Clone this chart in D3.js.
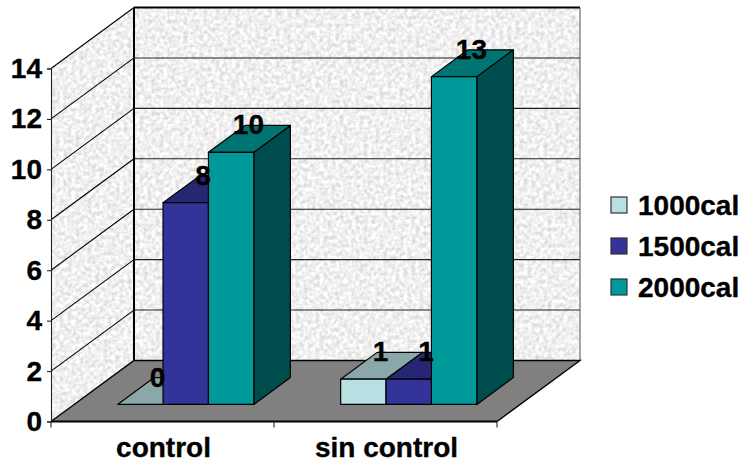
<!DOCTYPE html>
<html>
<head>
<meta charset="utf-8">
<script src="https://cdn.jsdelivr.net/npm/d3@7"></script>
<style>
  html, body { margin: 0; padding: 0; background: #fff; }
  svg { display: block; }
  text { font-family: "Liberation Sans", Arial, sans-serif; font-weight: bold; fill: #000; stroke: #000; stroke-width: 0.35px; }
</style>
</head>
<body>
<svg width="746" height="470"></svg>
<script>
const categories = ["control", "sin control"];
const seriesNames = ["1000cal", "1500cal", "2000cal"];
const values1000 = [0, 1];
const values1500 = [8, 1];
const values2000 = [10, 13];
const yTicks = [0, 2, 4, 6, 8, 10, 12, 14];

const seriesValues = [values1000, values1500, values2000];
const faceColors = ["#b8e0e3", "#333399", "#009999"];
const topColors = ["#8aa8aa", "#262673", "#007373"];
const sideColors = ["#5c7072", "#1a1a4d", "#004d4d"];

const svg = d3.select("svg");

// plot box, front plane, and how far the back wall is shifted
const plotLeft = 51, plotRight = 497, plotBottom = 421.5, plotTop = 68.5;
const depthX = 83, depthY = -61;
const barFront = 0.28, barBack = 0.72;

const y = d3.scaleLinear().domain([0, 14]).range([plotBottom, plotTop]);
const x = d3.scaleBand().domain(categories).range([plotLeft, plotRight]);
const xInner = d3.scaleBand()
  .domain(seriesNames)
  .range([0, x.bandwidth()])
  .paddingInner(0)
  .paddingOuter(0.956);

const pts = arr => arr.map(p => p.join(",")).join(" ");

// noise for the walls
const defs = svg.append("defs");
const noise = defs.append("filter").attr("id", "granite")
  .attr("x", 0).attr("y", 0).attr("width", 1).attr("height", 1)
  .attr("color-interpolation-filters", "sRGB");
noise.append("feTurbulence")
  .attr("type", "fractalNoise")
  .attr("baseFrequency", 0.25)
  .attr("numOctaves", 3)
  .attr("seed", 4);
noise.append("feColorMatrix").attr("type", "matrix")
  .attr("values", "0.3 0 0 0 0.79  0.3 0 0 0 0.79  0.3 0 0 0 0.79  0 0 0 0 1");
noise.append("feGaussianBlur").attr("stdDeviation", 0.6);

const wallLeft = [[plotLeft, y(0)], [plotLeft, y(14)], [plotLeft + depthX, y(14) + depthY], [plotLeft + depthX, y(0) + depthY]];
const wallBack = [[plotLeft + depthX, y(14) + depthY], [plotRight + depthX, y(14) + depthY], [plotRight + depthX, y(0) + depthY], [plotLeft + depthX, y(0) + depthY]];
const floor = [[plotLeft, y(0)], [plotRight, y(0)], [plotRight + depthX, y(0) + depthY], [plotLeft + depthX, y(0) + depthY]];

defs.append("clipPath").attr("id", "walls")
  .selectAll("polygon").data([wallLeft, wallBack]).join("polygon")
  .attr("points", pts);

svg.append("g").attr("clip-path", "url(#walls)")
  .append("rect")
  .attr("x", plotLeft - 2).attr("y", 0)
  .attr("width", plotRight + depthX - plotLeft + 4).attr("height", plotBottom)
  .attr("filter", "url(#granite)");

// gridlines on both walls
const grid = svg.append("g");
grid.selectAll(".back").data(yTicks.filter(d => d > 0 && d < 14)).join("line")
  .attr("class", "back")
  .attr("x1", plotLeft + depthX).attr("x2", plotRight + depthX)
  .attr("y1", d => y(d) + depthY).attr("y2", d => y(d) + depthY)
  .attr("stroke", "#222").attr("stroke-width", 1.1);
grid.selectAll(".side").data(yTicks.filter(d => d > 0)).join("line")
  .attr("class", "side")
  .attr("x1", plotLeft).attr("x2", plotLeft + depthX)
  .attr("y1", d => y(d)).attr("y2", d => y(d) + depthY)
  .attr("stroke", "#000").attr("stroke-width", 1.1);

// wall frame
svg.append("line").attr("x1", plotLeft + depthX).attr("x2", plotRight + depthX)
  .attr("y1", y(14) + depthY).attr("y2", y(14) + depthY)
  .attr("stroke", "#000").attr("stroke-width", 2);
svg.append("line").attr("x1", plotLeft + depthX).attr("x2", plotLeft + depthX)
  .attr("y1", y(14) + depthY).attr("y2", y(0) + depthY)
  .attr("stroke", "#000").attr("stroke-width", 2);
svg.append("line").attr("x1", plotRight + depthX).attr("x2", plotRight + depthX)
  .attr("y1", y(14) + depthY).attr("y2", y(0) + depthY)
  .attr("stroke", "#555").attr("stroke-width", 1);

svg.append("polygon").attr("points", pts(floor)).attr("fill", "#808080");
svg.append("polyline")
  .attr("points", pts([[plotLeft, y(0)], [plotLeft + depthX, y(0) + depthY], [plotRight + depthX, y(0) + depthY], [plotRight, y(0)]]))
  .attr("fill", "none").attr("stroke", "#000").attr("stroke-width", 1.4);
svg.append("line").attr("x1", plotLeft).attr("x2", plotRight)
  .attr("y1", y(0)).attr("y2", y(0))
  .attr("stroke", "#000").attr("stroke-width", 2);

// axes
const yAxis = svg.append("g").attr("transform", `translate(${plotLeft},0)`)
  .call(d3.axisLeft(y).tickValues(yTicks).tickSize(4).tickPadding(5).tickFormat(d3.format("d")));
yAxis.selectAll("path,line").attr("stroke", "#222").attr("stroke-width", 1.1);
yAxis.selectAll("text").attr("font-size", 28);
yAxis.attr("font-family", null).attr("font-size", null);

const xAxis = svg.append("g").attr("transform", `translate(1,${plotBottom})`)
  .call(d3.axisBottom(x).tickSize(0).tickPadding(16));
xAxis.select("path").remove();
xAxis.selectAll("text").attr("font-size", 28);
xAxis.attr("font-family", null).attr("font-size", null);

svg.append("g").selectAll("line")
  .data([plotLeft, plotLeft + x.step(), plotLeft + 2 * x.step()]).join("line")
  .attr("x1", d => d).attr("x2", d => d)
  .attr("y1", plotBottom).attr("y2", plotBottom + 6)
  .attr("stroke", "#222").attr("stroke-width", 1.1);

// bars, one category at a time, left to right
const strokeOpts = s => s.attr("stroke", "#000").attr("stroke-width", 1.2).attr("stroke-linejoin", "round");
const labels = [];
categories.forEach((cat, c) => {
  seriesNames.forEach((name, s) => {
    const v = seriesValues[s][c];
    const x0 = x(cat) + xInner(name) + depthX * barFront;
    const x1 = x0 + xInner.bandwidth();
    const yb = y(0) + depthY * barFront;
    const yt = y(v) + depthY * barFront;
    const dx = depthX * (barBack - barFront);
    const dy = depthY * (barBack - barFront);
    const g = svg.append("g");
    g.append("polygon")
      .attr("points", pts([[x1, yb], [x1 + dx, yb + dy], [x1 + dx, yt + dy], [x1, yt]]))
      .attr("fill", sideColors[s]).call(strokeOpts);
    g.append("polygon")
      .attr("points", pts([[x0, yt], [x1, yt], [x1 + dx, yt + dy], [x0 + dx, yt + dy]]))
      .attr("fill", topColors[s]).call(strokeOpts);
    g.append("rect")
      .attr("x", x0).attr("y", yt)
      .attr("width", x1 - x0).attr("height", yb - yt)
      .attr("fill", faceColors[s]).call(strokeOpts);
    labels.push({ v, x: (x0 + x1) / 2 + dx / 2 - 1, y: yt + dy });
  });
});

svg.append("g").selectAll("text").data(labels).join("text")
  .attr("x", d => d.x).attr("y", d => d.y + 9)
  .attr("text-anchor", "middle")
  .attr("font-size", 28)
  .text(d => d.v);

// legend
const legendY = d3.scalePoint().domain(seriesNames).range([205, 287]);
const legend = svg.append("g").selectAll("g").data(seriesNames).join("g")
  .attr("transform", d => `translate(611,${legendY(d)})`);
legend.append("rect")
  .attr("x", 0).attr("y", -8).attr("width", 16).attr("height", 16)
  .attr("fill", (d, i) => faceColors[i])
  .attr("stroke", "#333").attr("stroke-width", 1.2);
legend.append("text")
  .attr("x", 27).attr("y", 10)
  .attr("font-size", 28)
  .text(d => d);
</script>
</body>
</html>
